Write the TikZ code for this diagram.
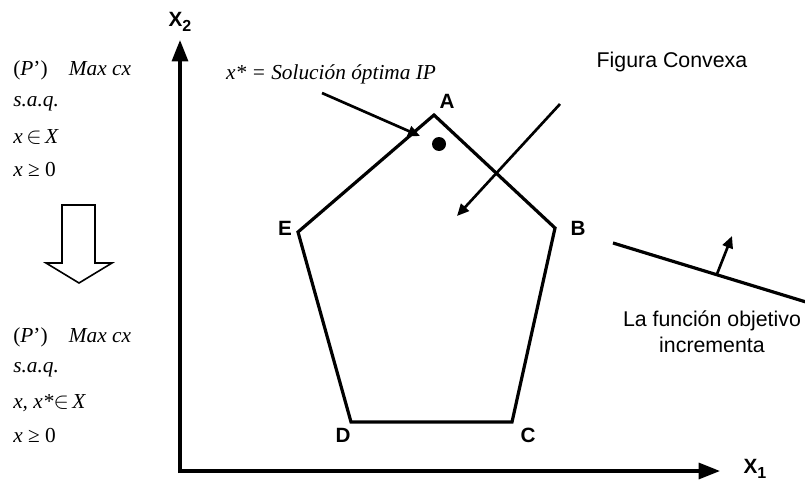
\documentclass[tikz,border=0pt]{standalone}
\usepackage{fontspec}
\setmainfont{Liberation Serif}
\setsansfont{Liberation Sans}
\usetikzlibrary{arrows.meta}
\begin{document}
\begin{tikzpicture}[x=0.75pt,y=-0.75pt,
  thick line/.style={line width=2.4pt},
  axis/.style={line width=2.4pt,-{Triangle[length=16pt,width=12pt]}},
  pointer/.style={line width=2pt,-{Triangle[length=9pt,width=8pt]}},
  vlabel/.style={font=\sffamily\bfseries\fontsize{15.5}{18}\selectfont},
  stext/.style={font=\sffamily\fontsize{16}{19.5}\selectfont,align=center},
  mtext/.style={font=\fontsize{16}{18}\selectfont\itshape,anchor=west,inner sep=0pt}]
\useasboundingbox (0,0) rectangle (805,485);
% axes
\coordinate (O) at (180,471);
\coordinate (Ytip) at (180,40);
\coordinate (Xtip) at (720,471);
\draw[axis] (180,473) -- (Ytip);
\draw[axis] (178,471) -- (Xtip);
\node[vlabel] (x2) at (180,22) {X\raisebox{-0.5ex}{\fontsize{12}{13}\selectfont 2}};
\node[vlabel,inner sep=1pt] (x1) at (755,469) {X\raisebox{-0.5ex}{\fontsize{12}{13}\selectfont 1}};
% pentagon
\coordinate (A) at (434,115);
\coordinate (B) at (555,228);
\coordinate (C) at (512,422);
\coordinate (D) at (351,422);
\coordinate (E) at (298,232);
\draw[thick line,line join=miter] (A) -- (B) -- (C) -- (D) -- (E) -- cycle;
\node[vlabel] (la) at (447,101) {A};
\node[vlabel] (lb) at (578,228) {B};
\node[vlabel] (lc) at (528,435) {C};
\node[vlabel] (ld) at (343,435) {D};
\node[vlabel] (le) at (285,228) {E};
% optimal point
\fill (439,144) circle (7);
\node[font=\fontsize{16}{18}\selectfont\itshape] (xs) at (331,74) {x* = Solución óptima IP};
\coordinate (xsstart) at (322,93);
\coordinate (xsend) at (420,136);
\draw[pointer] (xsstart) -- (xsend);
% convex figure
\node[stext] (fc) at (672,62) {Figura Convexa};
\coordinate (fcstart) at (560,104);
\coordinate (fcend) at (457,216);
\draw[pointer] (fcstart) -- (fcend);
% objective line
\coordinate (ob1) at (613,243);
\coordinate (ob2) at (806,302);
\draw[thick line] (ob1) -- (ob2);
\coordinate (ar1) at (717,274);
\coordinate (ar2) at (732,236);
\draw[pointer] (ar1) -- (ar2);
\node[stext] (fo) at (712,332) {La función objetivo\\incrementa};
% left texts
\node[mtext] (p1) at (13,70) {\upshape(\itshape P\upshape')\hspace{1em}\itshape Max cx};
\node[mtext] (p2) at (13,104) {s.a.q.};
\node[mtext] (p3) at (13,137) {x\,$\in$\,X};
\node[mtext] (p4) at (13,170) {x \upshape≥ 0};
\node[mtext] (q1) at (13,337) {\upshape(\itshape P\upshape')\hspace{1em}\itshape Max cx};
\node[mtext] (q2) at (13,370) {s.a.q.};
\node[mtext] (q3) at (13,403) {x, x*$\in$\,X};
\node[mtext] (q4) at (13,436) {x \upshape≥ 0};
% hollow arrow
\draw[line width=1.2pt,line join=miter] (62,205) -- (95,205) -- (95,263) -- (112,263) -- (79,283) -- (46,263) -- (62,263) -- cycle;
\end{tikzpicture}
\end{document}
